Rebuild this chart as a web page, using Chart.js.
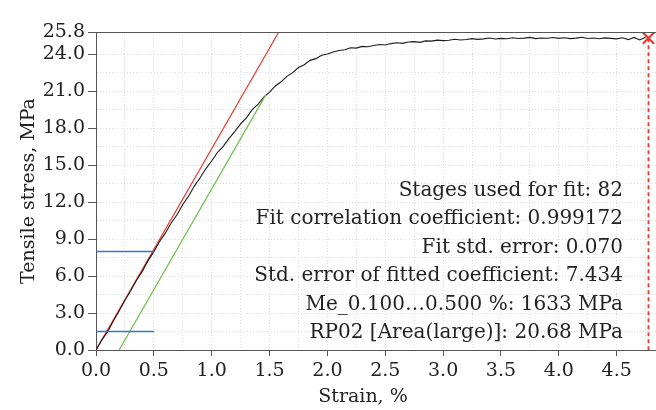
<!DOCTYPE html>
<html>
<head>
<meta charset="utf-8">
<script src="https://cdn.jsdelivr.net/npm/chart.js@4/dist/chart.umd.min.js"></script>
<style>
html,body{margin:0;padding:0;background:#fff;}
#wrap{width:656px;height:410px;position:relative;}
</style>
</head>
<body>
<div id="wrap"><canvas id="c"></canvas></div>
<script>
// ---- data ----
const strain = [
0.00,0.05,0.10,0.15,0.20,0.25,0.30,0.35,0.40,0.45,
0.50,0.55,0.60,0.65,0.70,0.75,0.80,0.85,0.90,0.95,
1.00,1.05,1.10,1.15,1.20,1.25,1.30,1.35,1.40,1.45,
1.50,1.55,1.60,1.65,1.70,1.75,1.80,1.85,1.90,1.95,
2.00,2.05,2.10,2.15,2.20,2.25,2.30,2.35,2.40,2.45,
2.50,2.55,2.60,2.65,2.70,2.75,2.80,2.85,2.90,2.95,
3.00,3.05,3.10,3.15,3.20,3.25,3.30,3.35,3.40,3.45,
3.50,3.55,3.60,3.65,3.70,3.75,3.80,3.85,3.90,3.95,
4.00,4.05,4.10,4.15,4.20,4.25,4.30,4.35,4.40,4.45,
4.50,4.55,4.60,4.65,4.70,4.75];
const stress = [
0.00,0.82,1.47,2.36,3.16,4.03,4.80,5.66,6.38,7.25,
7.98,8.80,9.50,10.30,10.97,11.80,12.47,13.30,13.97,14.72,
15.33,16.04,16.52,17.17,17.74,18.34,18.84,19.50,19.92,20.52,
20.92,21.42,21.76,22.20,22.50,22.92,23.14,23.50,23.64,23.92,
24.02,24.18,24.30,24.36,24.52,24.49,24.63,24.60,24.71,24.78,
24.74,24.86,24.93,24.88,24.99,25.02,24.96,25.08,25.06,25.14,
25.10,25.13,25.21,25.15,25.19,25.26,25.20,25.24,25.31,25.23,
25.28,25.25,25.33,25.27,25.30,25.36,25.26,25.31,25.29,25.35,
25.28,25.33,25.26,25.30,25.37,25.27,25.31,25.25,25.32,25.28,
25.24,25.33,25.18,25.36,25.15,25.38];

const fitStrain = [0.0, 1.58];          // modulus fit line (red)
const fitStress = [0.0, 25.8];
const offsetStrain = [0.2, 1.466];      // 0.2 % offset line (green)
const offsetStress = [0.0, 20.68];
const rangeLowStrain = [0.0, 0.5];      // blue markers of fit range
const rangeLowStress = [1.5, 1.5];
const rangeHighStrain = [0.0, 0.5];
const rangeHighStress = [8.0, 8.0];
const breakStrain = [4.775, 4.775];     // break point (red x, dashed drop)
const breakStress = [25.3, 0.0];

const xTicks = [0,0.25,0.5,0.75,1,1.25,1.5,1.75,2,2.25,2.5,2.75,3,3.25,3.5,3.75,4,4.25,4.5,4.75];
const xLabelTicks = [0,0.5,1,1.5,2,2.5,3,3.5,4,4.5];
const yTicks = [0,1.5,3,4.5,6,7.5,9,10.5,12,13.5,15,16.5,18,19.5,21,22.5,24,25.8];
const yLabelTicks = [0,3,6,9,12,15,18,21,24,25.8];
const xMin = 0, xMax = 4.84, yMin = 0, yMax = 25.8;

const infoLines = [
  "Stages used for fit: 82",
  "Fit correlation coefficient: 0.999172",
  "Fit std. error: 0.070",
  "Std. error of fitted coefficient: 7.434",
  "Me_0.100\u20260.500 %: 1633 MPa",
  "RP02 [Area(large)]: 20.68 MPa"
];
const xTitle = "Strain, %";
const yTitle = "Tensile stress, MPa";

// ---- build ----
const pts = (xs, ys) => xs.map((x, i) => ({x: x, y: ys[i]}));
const FONT = "'DejaVu Serif', serif";
const isIn = (arr, v) => arr.some(a => Math.abs(a - v) < 1e-6);

const overlay = {
  id: 'overlay',
  afterDatasetsDraw(chart) {
    const ctx = chart.ctx, a = chart.chartArea;
    ctx.save();
    // top frame line
    ctx.strokeStyle = '#555';
    ctx.lineWidth = 1;
    ctx.beginPath();
    ctx.moveTo(a.left, Math.round(a.top) + 0.5);
    ctx.lineTo(a.right, Math.round(a.top) + 0.5);
    ctx.stroke();
    // info text
    ctx.fillStyle = '#222';
    ctx.font = "20px " + FONT;
    ctx.textAlign = 'right';
    ctx.textBaseline = 'alphabetic';
    infoLines.forEach((t, i) => ctx.fillText(t, 623, 196 + i * 28.4));
    // x title
    ctx.font = "19px " + FONT;
    ctx.textAlign = 'center';
    ctx.textBaseline = 'middle';
    ctx.fillText(xTitle, 363, 397);
    ctx.restore();
  }
};

new Chart(document.getElementById('c'), {
  type: 'line',
  data: {
    datasets: [
      {data: pts(rangeLowStrain, rangeLowStress), borderColor: '#2f78c8', borderWidth: 1.5, pointRadius: 0},
      {data: pts(rangeHighStrain, rangeHighStress), borderColor: '#2f78c8', borderWidth: 1.5, pointRadius: 0},
      {data: pts(offsetStrain, offsetStress), borderColor: '#6cc04a', borderWidth: 1.2, pointRadius: 0},
      {data: pts(strain, stress), borderColor: '#1c1c1c', borderWidth: 1.1, pointRadius: 0, tension: 0},
      {data: pts(fitStrain, fitStress), borderColor: '#e8392e', borderWidth: 1.2, pointRadius: 0},
      {data: pts(breakStrain, breakStress), borderColor: '#e8392e', borderWidth: 1.8, borderDash: [4, 3], pointRadius: 0},
      {data: pts(breakStrain.slice(0,1), breakStress.slice(0,1)), showLine: false, pointStyle: 'crossRot',
       pointRadius: 8, pointBorderWidth: 2.2, pointBorderColor: '#e8392e', pointBackgroundColor: '#e8392e', clip: false}
    ]
  },
  options: {
    responsive: true,
    maintainAspectRatio: false,
    animation: false,
    devicePixelRatio: 1,
    layout: {autoPadding: false, padding: {top: 32, right: 0, left: 0, bottom: 0}},
    plugins: {legend: {display: false}, tooltip: {enabled: false}},
    scales: {
      x: {
        type: 'linear', min: xMin, max: xMax,
        afterBuildTicks: s => { s.ticks = xTicks.map(v => ({value: v})); },
        afterFit: s => { s.height = 60; s.paddingRight = 0; s.paddingLeft = 0; },
        ticks: {
          autoSkip: false, maxRotation: 0, padding: 4, color: '#222',
          font: {family: FONT, size: 19},
          callback: v => isIn(xLabelTicks, v) ? v.toFixed(1) : ''
        },
        grid: {
          color: '#dcdcdc', lineWidth: 1, tickLength: 6,
          tickColor: c => (c.tick && isIn(xLabelTicks, c.tick.value)) ? '#555' : 'rgba(0,0,0,0)'
        },
        border: {display: true, color: '#555', width: 1, dash: [1, 2]},
        title: {display: false}
      },
      y: {
        type: 'linear', min: yMin, max: yMax,
        afterBuildTicks: s => { s.ticks = yTicks.map(v => ({value: v})); },
        afterFit: s => { s.width = 96; s.paddingTop = 0; s.paddingBottom = 0; },
        ticks: {
          autoSkip: false, padding: 3, color: '#222',
          font: {family: FONT, size: 19},
          callback: v => isIn(yLabelTicks, v) ? v.toFixed(1) : ''
        },
        grid: {
          color: '#dcdcdc', lineWidth: 1, tickLength: 8,
          tickColor: c => (c.tick && isIn(yLabelTicks, c.tick.value)) ? '#555' : 'rgba(0,0,0,0)'
        },
        border: {display: true, color: '#555', width: 1, dash: [1, 2]},
        title: {display: true, text: yTitle, color: '#222', font: {family: FONT, size: 19}, padding: {top: 18, bottom: 0}}
      }
    }
  },
  plugins: [overlay]
});
</script>
</body>
</html>
